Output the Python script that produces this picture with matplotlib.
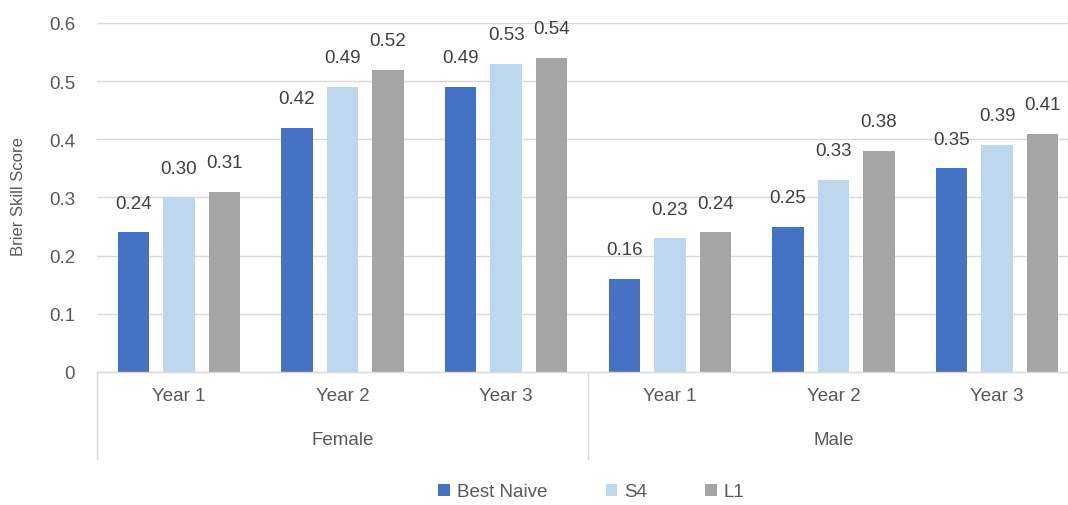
import numpy as np
import matplotlib.pyplot as plt
from matplotlib.patches import Patch

plt.rcParams['font.family'] = ['Liberation Sans', 'DejaVu Sans']

groups = ['Female', 'Male']
years = ['Year 1', 'Year 2', 'Year 3']
series = ['Best Naive', 'S4', 'L1']
colors = ['#4472C4', '#BDD7EE', '#A5A5A5']

best_naive = [0.24, 0.42, 0.49, 0.16, 0.25, 0.35]
s4 = [0.30, 0.49, 0.53, 0.23, 0.33, 0.39]
l1 = [0.31, 0.52, 0.54, 0.24, 0.38, 0.41]

yticks = [0, 0.1, 0.2, 0.3, 0.4, 0.5, 0.6]
ytick_labels = ['0', '0.1', '0.2', '0.3', '0.4', '0.5', '0.6']

grid_c = '#D9D9D9'
text_c = '#595959'
label_c = '#404040'

fig = plt.figure(figsize=(10.68, 5.06), dpi=100)
# plot area runs a little past the right edge of the figure
ax = fig.add_axes([97 / 1068, 1 - 373 / 506, 982 / 1068, 349 / 506])

x = np.arange(len(best_naive))
offset = 0.278
width = 0.193
for i, (vals, c) in enumerate(zip([best_naive, s4, l1], colors)):
    xs = x + (i - 1) * offset
    ax.bar(xs, vals, width, color=c, zorder=2)
    for xi, v in zip(xs, vals):
        ax.annotate(f'{v:.2f}', (xi, v), xytext=(0, 21), textcoords='offset points',
                    ha='center', va='center', fontsize=13.5, color=label_c)

ax.set_xlim(-0.5, len(x) - 0.5)
ax.set_ylim(0, 0.6)
ax.set_yticks(yticks)
ax.set_yticklabels(ytick_labels)
ax.tick_params(axis='y', length=0, pad=15.8, labelsize=13.5, labelcolor=text_c)
ax.set_xticks([])
ax.grid(axis='y', color=grid_c, linewidth=1, zorder=0)
for s in ['top', 'right', 'left']:
    ax.spines[s].set_visible(False)
ax.spines['bottom'].set_color(grid_c)
ax.spines['bottom'].set_linewidth(1)

ax.set_ylabel('Brier Skill Score', fontsize=12, color=text_c)
ax.yaxis.set_label_coords(-0.0725, 0.505)

# two-level category axis
trans = ax.get_xaxis_transform()
for xi in range(len(x)):
    ax.text(xi, -0.0673, years[xi % 3], transform=trans, ha='center', va='center',
            fontsize=13.5, color=text_c)
for gi, g in enumerate(groups):
    ax.text(gi * 3 + 1, -0.192, g, transform=trans, ha='center', va='center',
            fontsize=13.5, color=text_c)
for b in [-0.5, 2.5, 5.5]:
    ax.plot([b, b], [0, -0.249], transform=trans, color=grid_c, lw=1, clip_on=False)

handles = [Patch(facecolor=c, label=s) for s, c in zip(series, colors)]
fig.legend(handles=handles, loc='center', bbox_to_anchor=(591.5 / 1068, 1 - 493 / 506),
           ncol=3, frameon=False, fontsize=13.5, handlelength=0.62, handleheight=0.62,
           handletextpad=0.37, columnspacing=3.1, labelcolor=text_c)

fig.savefig('out.png', dpi=100)
